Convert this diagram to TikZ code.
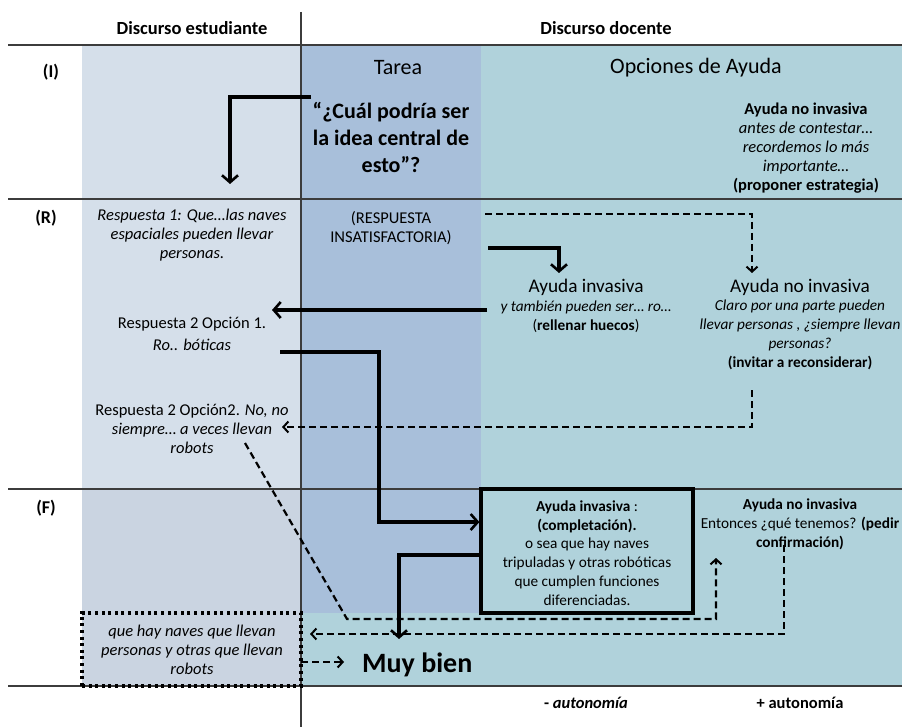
\documentclass[tikz,border=0pt]{standalone}
\usepackage{fontspec}
\setmainfont{Carlito}
\usetikzlibrary{arrows.meta}
\definecolor{stuBg}{HTML}{D5DFEA}
\definecolor{stuFBg}{HTML}{CAD4E1}
\definecolor{tarBg}{HTML}{A8BFDA}
\definecolor{opcBg}{HTML}{B0D2DB}
\definecolor{gridc}{HTML}{3C3C3C}
\begin{document}
\begin{tikzpicture}[x=1pt,y=-1pt,
  txt/.style={align=center, font=\fontsize{15.3}{18.8}\selectfont, inner sep=0pt},
  stxt/.style={align=center, font=\fontsize{16.5}{19}\selectfont, inner sep=0pt},
  bigtxt/.style={align=center, font=\fontsize{19.3}{22}\selectfont, inner sep=0pt},
  toptxt/.style={align=center, font=\fontsize{22}{25}\selectfont, inner sep=0pt},
  hdr/.style={font=\fontsize{18.5}{21}\selectfont\bfseries, inner sep=0pt},
  rowlab/.style={font=\fontsize{18}{21}\selectfont\bfseries, inner sep=0pt},
  gridline/.style={draw=gridc, line width=1.2pt},
  solidarrow/.style={line width=3.2pt, -{Straight Barb[length=7pt,width=16pt,line width=2.6pt]}},
  dasharrow/.style={line width=2.2pt, dash pattern=on 7pt off 4pt, -{Straight Barb[length=5pt,width=11pt,line width=2pt]}}
]
\useasboundingbox (0,0) rectangle (902,727);
% backgrounds
\fill[stuBg] (82,45) rectangle (301,489);
\fill[stuFBg] (82,489) rectangle (301,686);
\fill[tarBg] (301,45) rectangle (481,613);
\fill[opcBg] (481,45) rectangle (902,686);
\fill[opcBg] (301,613) rectangle (481,686);
% grid
\draw[gridline] (8,45) -- (902,45);
\draw[gridline] (8,199) -- (902,199);
\draw[gridline] (8,489) -- (902,489);
\draw[gridline] (8,686) -- (902,686);
\draw[gridline] (301,12) -- (301,727);
% headers
\node[hdr] (hs) at (192,28) {Discurso estudiante};
\node[hdr] (hd) at (606,28) {Discurso docente};
\node[rowlab] (lI) at (51,72) {(I)};
\node[rowlab] (lR) at (46,218) {(R)};
\node[rowlab] (lF) at (46,508) {(F)};
\node[toptxt] (tarea) at (398,68) {Tarea};
\node[toptxt] (opc) at (696,68) {Opciones de Ayuda};
% row I
\node[align=center, inner sep=0pt, font=\fontsize{22}{27}\selectfont\bfseries] (quote) at (391,137) {“¿Cuál podría ser\\la idea central de\\esto”?};
\node[stxt] (ani1) at (806,148) {\textbf{Ayuda no invasiva}\\\textit{antes de contestar…}\\\textit{recordemos lo más}\\\textit{importante…}\\\textbf{(proponer estrategia)}};
% row R
\node[stxt] (resp1) at (192,235) {\textit{Respuesta 1: Que…las naves}\\\textit{espaciales pueden llevar}\\\textit{personas.}};
\node[stxt] (insat) at (391,228) {(RESPUESTA\\INSATISFACTORIA)};
\node[bigtxt] (ainv) at (586,287) {Ayuda invasiva};
\node[txt] (ainvt) at (586,317) {\textit{y también pueden ser… ro…}\\(\textbf{rellenar huecos})};
\node[bigtxt] (anoinv) at (800,287) {Ayuda no invasiva};
\node[txt] (anoinvt) at (800,335) {\textit{Claro por una parte pueden}\\\textit{llevar personas , ¿siempre llevan}\\\textit{personas?}\\\textbf{(invitar a reconsiderar)}};
\node[stxt, font=\fontsize{16.5}{21.5}\selectfont] (r2o1) at (192,334) {Respuesta 2 Opción 1.\\\textit{Ro.. bóticas}};
\node[stxt] (r2o2) at (192,429) {Respuesta 2 Opción2. \textit{No, no}\\\textit{siempre… a veces llevan}\\\textit{robots}};
% row F
\node[draw, line width=3.2pt, minimum width=212pt, minimum height=124pt, inner sep=0pt] (box) at (587,551) {};
\node[txt] (boxt) at (587,553) {\textbf{Ayuda invasiva} :\\\textbf{(completación).}\\o sea que hay naves\\tripuladas y otras robóticas\\que cumplen funciones\\diferenciadas.};
\node[txt] (anoF) at (800,524) {\textbf{Ayuda no invasiva}\\Entonces ¿qué tenemos? \textbf{(pedir}\\\textbf{confirmación)}};
\node[draw, line width=3.2pt, dash pattern=on 3pt off 3.6pt, minimum width=219pt, minimum height=73pt, inner sep=0pt] (dotbox) at (191.5,649.5) {};
\node[stxt] (dott) at (192,650) {\textit{que hay naves que llevan}\\\textit{personas y otras que llevan}\\\textit{robots}};
\node[anchor=west, inner sep=0pt, font=\fontsize{28}{32}\selectfont\bfseries] (muy) at (362,665) {Muy bien};
\node[stxt] (autm) at (586,703) {\textbf{- \textit{autonomía}}};
\node[stxt] (autp) at (800,703) {\textbf{+ autonomía}};
% coordinates for connectors
\coordinate (c1s) at (311,97);
\coordinate (c1e) at (230,184);
\coordinate (c2s) at (485,214);
\coordinate (c2e) at (752,273);
\coordinate (c3s) at (488,248);
\coordinate (c3e) at (559,273);
\coordinate (c4s) at (487,310);
\coordinate (c4e) at (272,310);
\coordinate (c5s) at (280,352);
\coordinate (c5m) at (379,522);
\coordinate (c6s) at (752,390);
\coordinate (c6e) at (282,427);
\coordinate (c7s) at (245,443);
\coordinate (c7m) at (347,619);
\coordinate (c7e) at (716,558);
\coordinate (c8s) at (480,555);
\coordinate (c8e) at (399,639);
\coordinate (c9s) at (784,545);
\coordinate (c9e) at (310,634);
\coordinate (c10s) at (301,662);
\coordinate (c10e) at (344,662);
% connectors
\draw[solidarrow] (c1s) -| (c1e);
\draw[dasharrow] (c2s) -| (c2e);
\draw[solidarrow] (c3s) -| (c3e);
\draw[solidarrow] (c4s) -- (c4e);
\draw[solidarrow] (c5s) -| (c5m) -- (box.west |- c5m);
\draw[dasharrow] (c6s) |- (c6e);
\draw[dasharrow] (c7s) -- (c7m) -| (c7e);
\draw[solidarrow] (c8s) -| (c8e);
\draw[dasharrow] (c9s) |- (c9e);
\draw[dasharrow] (c10s) -- (c10e);
\end{tikzpicture}
\end{document}
